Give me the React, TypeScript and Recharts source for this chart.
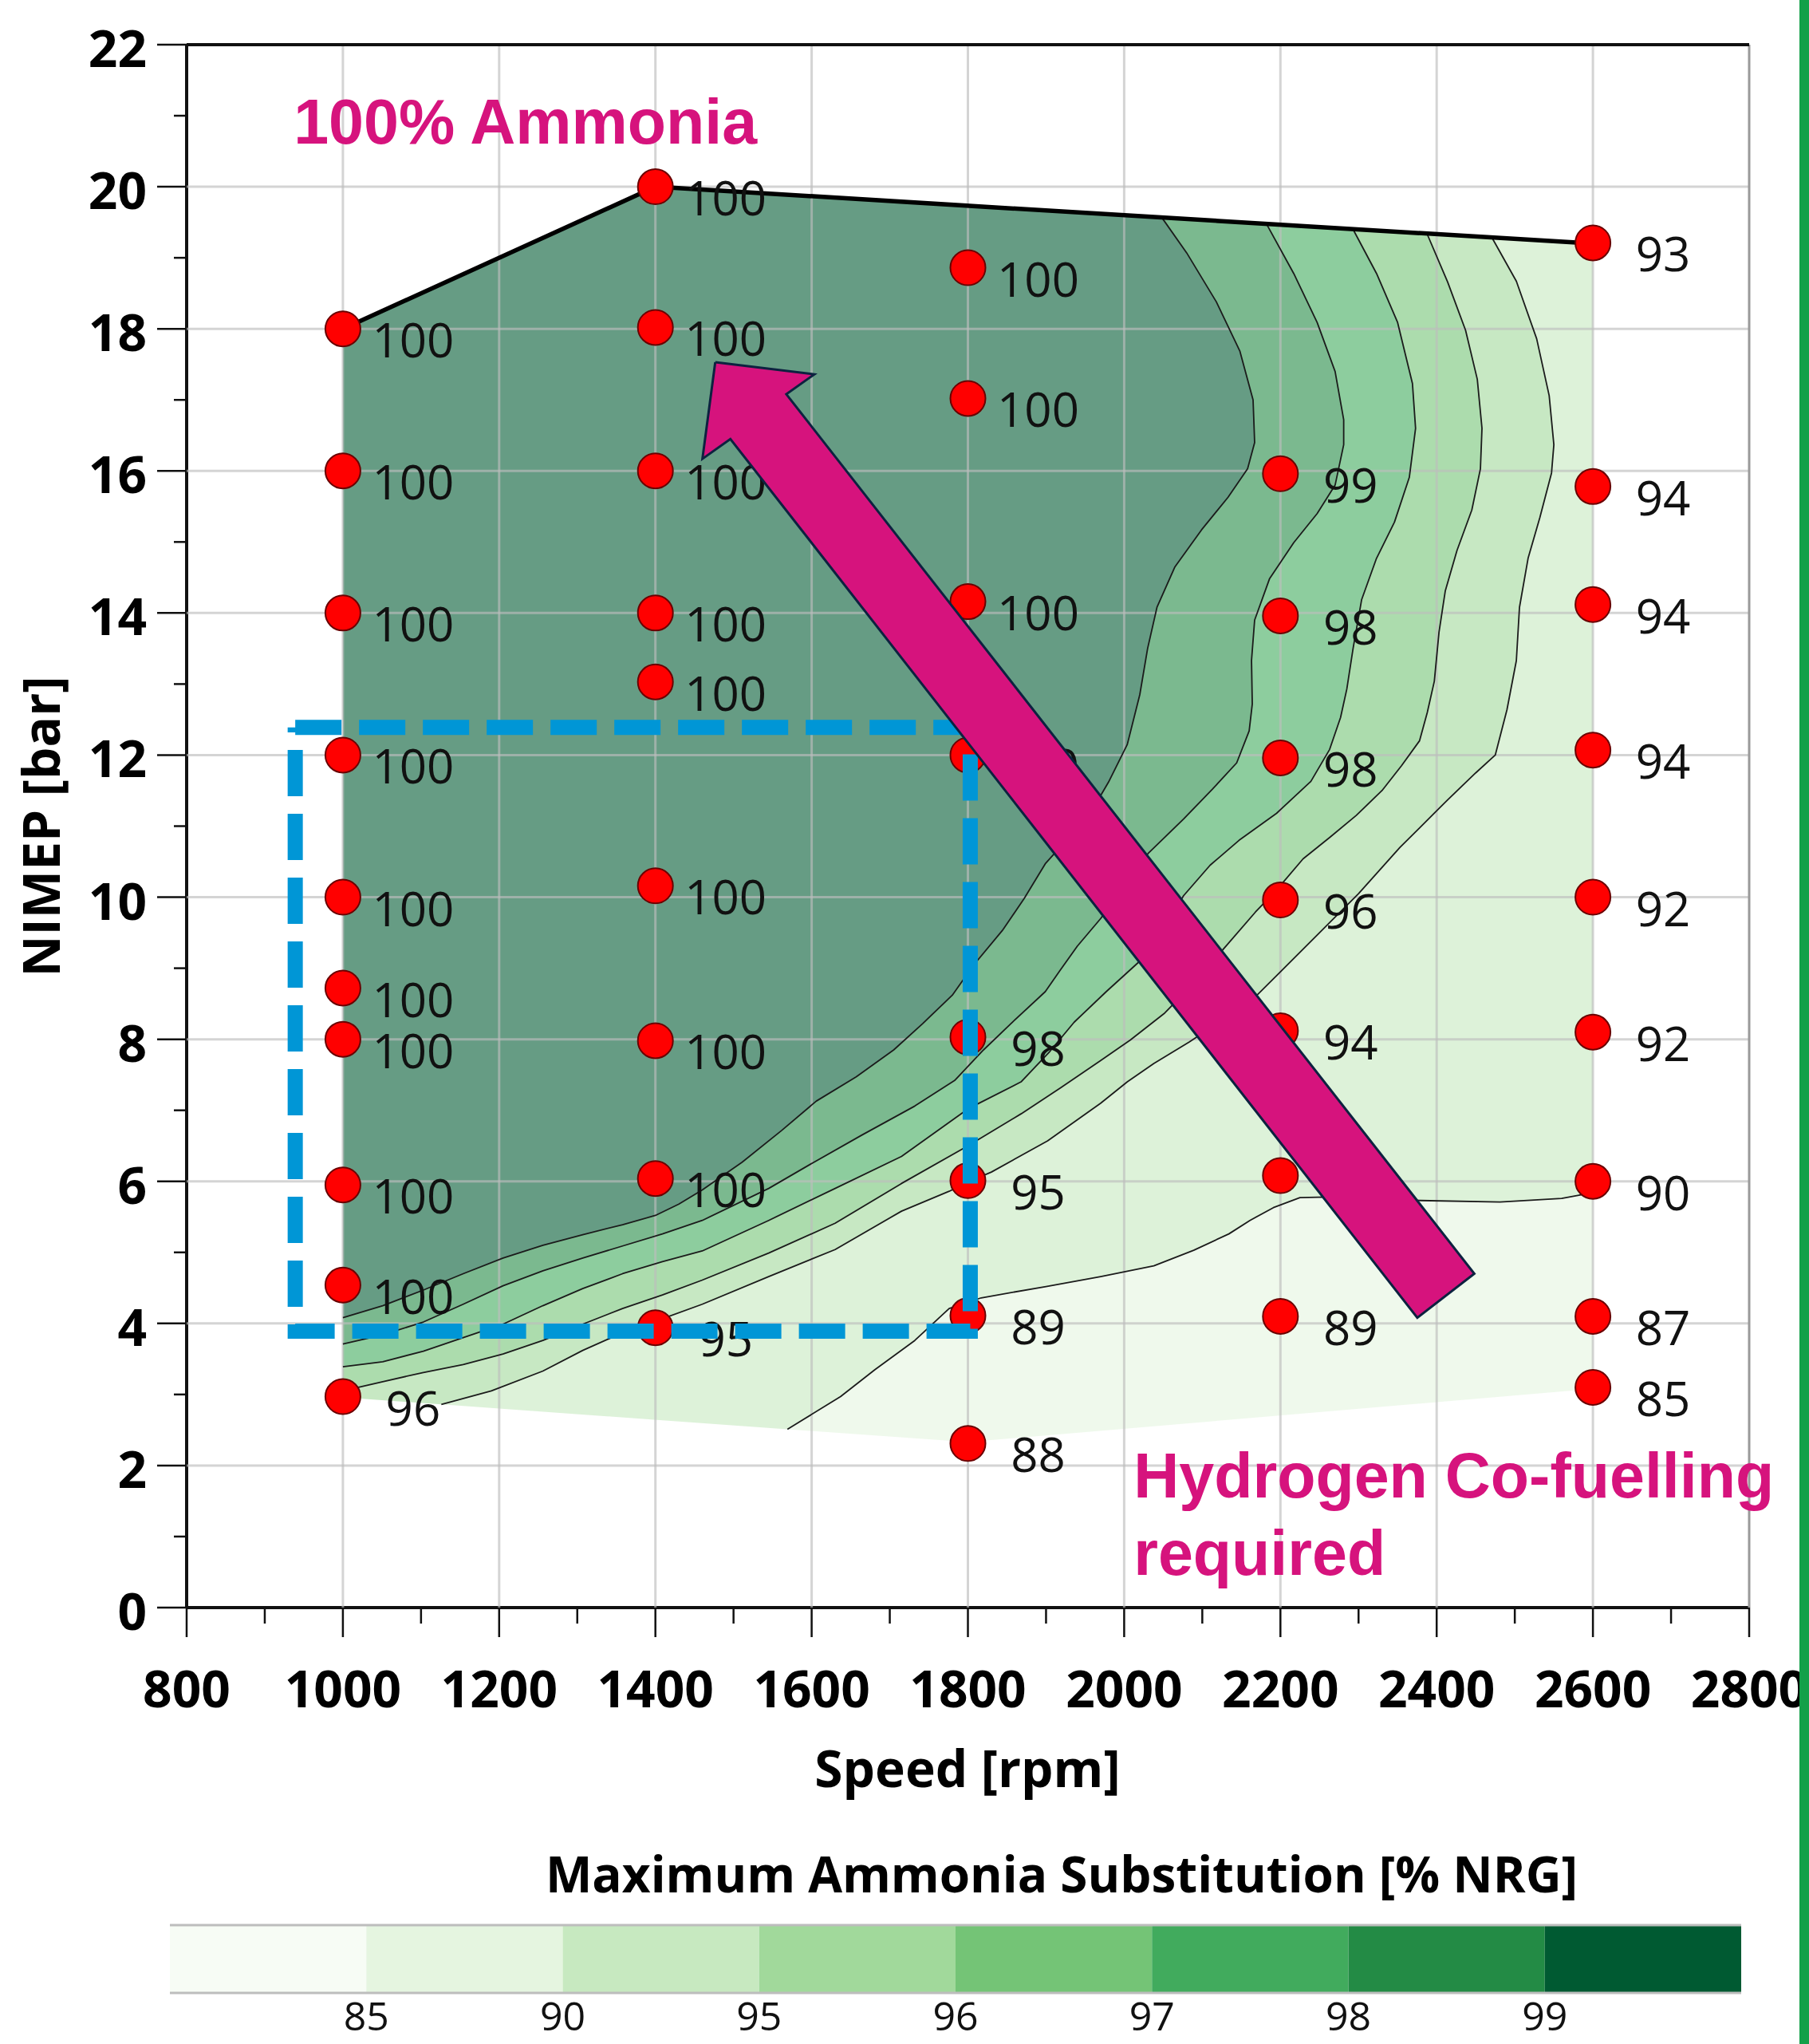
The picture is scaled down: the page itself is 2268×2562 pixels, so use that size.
import React from 'react'
import { ComposedChart, Scatter, XAxis, YAxis } from 'recharts'

type Pt = [number, number]

// operating points: speed [rpm], NIMEP [bar], max ammonia substitution [%]
const pointSpeed = [
  1000, 1000, 1000, 1000, 1000, 1000, 1000, 1000, 1000, 1000,
  1400, 1400, 1400, 1400, 1400, 1400, 1400, 1400, 1400,
  1800, 1800, 1800, 1800, 1800, 1800, 1800, 1800,
  2200, 2200, 2200, 2200, 2200, 2200, 2200,
  2600, 2600, 2600, 2600, 2600, 2600, 2600, 2600, 2600,
]
const pointNimep = [
  18, 16, 14, 12, 10, 8.72, 8, 5.95, 4.54, 2.97,
  20, 18.02, 16, 14, 13.03, 10.16, 7.98, 6.04, 3.94,
  18.86, 17.02, 14.16, 12, 8.03, 6.01, 4.11, 2.31,
  15.96, 13.96, 11.96, 9.96, 8.12, 6.08, 4.1,
  19.21, 15.78, 14.12, 12.07, 10, 8.1, 6, 4.1, 3.1,
]
const pointValue: (number | null)[] = [
  100, 100, 100, 100, 100, 100, 100, 100, 100, 96,
  100, 100, 100, 100, 100, 100, 100, 100, 95,
  100, 100, 100, 100, 98, 95, 89, 88,
  99, 98, 98, 96, 94, null, 89,
  93, 94, 94, 94, 92, 92, 90, 87, 85,
]

// test envelope
const envelopeTop: Pt[] = [[1000, 18], [1400, 20], [2600, 19.2]]
const envelopeBottom: Pt[] = [[1000, 2.96], [1800, 2.33], [2600, 3.08]]

// contour lines (bottom-left start -> top end)
const contour99: Pt[] = [
  [1000, 4.08], [1051, 4.25], [1103, 4.47], [1154, 4.7], [1205, 4.92], [1256, 5.1], [1307, 5.25],
  [1358, 5.39], [1400, 5.52], [1430, 5.68], [1460, 5.88], [1511, 6.27], [1562, 6.72], [1606, 7.13],
  [1657, 7.47], [1705, 7.85], [1742, 8.22], [1780, 8.62], [1807, 9.04], [1844, 9.53], [1872, 9.98],
  [1899, 10.47], [1930, 10.85], [1955, 11.15], [1980, 11.62], [2004, 12.15], [2020, 12.85],
  [2030, 13.5], [2042, 14.08], [2065, 14.65], [2099, 15.17], [2133, 15.63], [2158, 16.03],
  [2167, 16.4], [2165, 17.0], [2148, 17.69], [2118, 18.38], [2080, 19.07], [2048, 19.57],
]
const contour98: Pt[] = [
  [1000, 3.71], [1051, 3.84], [1103, 4.02], [1154, 4.27], [1205, 4.53], [1256, 4.74], [1307, 4.92],
  [1358, 5.09], [1409, 5.26], [1460, 5.45], [1545, 5.9], [1603, 6.27], [1664, 6.65], [1732, 7.06],
  [1783, 7.42], [1820, 7.85], [1855, 8.22], [1899, 8.67], [1918, 8.97], [1940, 9.31], [1970, 9.7],
  [2000, 10.15], [2031, 10.62], [2076, 11.1], [2113, 11.52], [2144, 11.89], [2160, 12.34],
  [2164, 12.72], [2163, 13.33], [2167, 13.9], [2186, 14.48], [2217, 14.99], [2247, 15.4],
  [2270, 15.8], [2281, 16.37], [2281, 16.72], [2270, 17.4], [2247, 18.09], [2217, 18.78], [2182, 19.48],
]
const contour97: Pt[] = [
  [1000, 3.39], [1051, 3.46], [1103, 3.61], [1154, 3.8], [1205, 3.99], [1256, 4.25], [1307, 4.49],
  [1358, 4.7], [1409, 4.87], [1460, 5.02], [1545, 5.45], [1630, 5.9], [1715, 6.35], [1800, 7.02],
  [1868, 7.4], [1905, 7.83], [1936, 8.24], [1977, 8.67], [2018, 9.08], [2050, 9.55], [2076, 10.02],
  [2110, 10.45], [2147, 10.8], [2195, 11.18], [2239, 11.63], [2263, 12.08], [2277, 12.53],
  [2285, 12.93], [2293, 13.5], [2304, 14.19], [2323, 14.77], [2346, 15.28], [2365, 15.91],
  [2373, 16.6], [2369, 17.23], [2350, 18.09], [2323, 18.78], [2293, 19.4],
]
const contour96: Pt[] = [
  [1000, 3.05], [1051, 3.18], [1103, 3.31], [1154, 3.42], [1205, 3.57], [1256, 3.76], [1307, 3.99],
  [1358, 4.21], [1409, 4.4], [1460, 4.61], [1545, 4.99], [1630, 5.41], [1715, 5.97], [1800, 6.5],
  [1868, 6.95], [1919, 7.32], [1970, 7.7], [2008, 7.99], [2052, 8.37], [2090, 8.8], [2127, 9.27],
  [2168, 9.79], [2195, 10.1], [2229, 10.54], [2263, 10.84], [2297, 11.15], [2330, 11.5],
  [2355, 11.85], [2378, 12.2], [2388, 12.6], [2397, 13.04], [2403, 13.73], [2411, 14.31],
  [2426, 14.88], [2445, 15.45], [2456, 16.03], [2458, 16.6], [2452, 17.29], [2437, 17.98],
  [2414, 18.66], [2388, 19.33],
]
const contour95: Pt[] = [
  [1126, 2.86], [1190, 3.05], [1256, 3.33], [1307, 3.62], [1358, 3.87], [1400, 4.03], [1460, 4.27],
  [1545, 4.66], [1630, 5.04], [1715, 5.58], [1776, 5.86], [1800, 5.99], [1830, 6.13], [1902, 6.57],
  [1970, 7.1], [2004, 7.4], [2038, 7.66], [2083, 7.96], [2130, 8.3], [2170, 8.62], [2200, 8.95],
  [2250, 9.5], [2300, 10.05], [2353, 10.7], [2414, 11.37], [2450, 11.75], [2475, 12.0],
  [2490, 12.64], [2502, 13.33], [2506, 14.08], [2517, 14.77], [2532, 15.34], [2547, 15.97],
  [2550, 16.37], [2544, 17.06], [2528, 17.86], [2502, 18.67], [2471, 19.28],
]
const contour90: Pt[] = [
  [1569, 2.51], [1637, 2.97], [1681, 3.35], [1732, 3.76], [1776, 4.21], [1817, 4.36], [1900, 4.52],
  [1970, 4.66], [2038, 4.81], [2089, 5.03], [2134, 5.26], [2161, 5.45], [2191, 5.63], [2225, 5.77],
  [2260, 5.78], [2379, 5.73], [2481, 5.71], [2560, 5.76], [2600, 5.84],
]

// annotations (data coordinates)
const boxCorners: Pt[] = [[939, 12.39], [1803, 12.39], [1803, 3.89], [939, 3.89], [939, 12.39]]
const arrowOutline: Pt[] = [
  [1476.6, 17.53], [1603.4, 17.36], [1567.6, 17.08], [2448.2, 4.7],
  [2375.2, 4.08], [1496.0, 16.45], [1460.2, 16.17], [1476.6, 17.53],
]
const noteText = ['100% Ammonia', 'Hydrogen Co-fuelling', 'required']
const noteSpeed = [937, 2012, 2012]
const noteNimep = [20.61, 1.55, 0.465]

// axes
const xTicks = [800, 900, 1000, 1100, 1200, 1300, 1400, 1500, 1600, 1700, 1800, 1900, 2000, 2100, 2200, 2300, 2400, 2500, 2600, 2700, 2800]
const yTicks = [0, 1, 2, 3, 4, 5, 6, 7, 8, 9, 10, 11, 12, 13, 14, 15, 16, 17, 18, 19, 20, 21, 22]
const gridX = [1000, 1200, 1400, 1600, 1800, 2000, 2200, 2400, 2600]
const gridY = [2, 4, 6, 8, 10, 12, 14, 16, 18, 20]

// colour scale
const legendColors = ['#f7fcf5', '#e5f5e0', '#c7e9c0', '#a1d99b', '#74c476', '#41ab5d', '#238b45', '#005a32']
const legendTicks = ['85', '90', '95', '96', '97', '98', '99']
const legendTickPos = [1, 2, 3, 4, 5, 6, 7]

const MAGENTA = '#d6137d'
const FONT = 'Open Sans, DejaVu Sans, sans-serif'

const toXY = (pts: Pt[]) => pts.map(([x, y]) => ({ x, y }))
const rev = (pts: Pt[]) => [...pts].reverse()

const [BL, BM, BR] = envelopeBottom
const [TL, TM, TR] = envelopeTop

const bands = [
  { color: legendColors[1], pts: [...contour90, BR, BM] },
  { color: legendColors[2], pts: [...contour90, TR, ...rev(contour95)] },
  { color: legendColors[3], pts: [...contour95, ...rev(contour96), BL] },
  { color: legendColors[4], pts: [...contour96, ...rev(contour97)] },
  { color: legendColors[5], pts: [...contour97, ...rev(contour98)] },
  { color: legendColors[6], pts: [...contour98, ...rev(contour99)] },
  { color: legendColors[7], pts: [...contour99, TM, TL] },
]
const contours = [contour99, contour98, contour97, contour96, contour95, contour90]

const points = pointSpeed.map((x, i) => ({ x, y: pointNimep[i], label: pointValue[i] }))
const notes = noteText.map((text, i) => ({ x: noteSpeed[i], y: noteNimep[i], text }))

// colour-bar cells: one unit wide each on a 0..8 axis
const legendCells = legendColors.map((color, i) => ({
  color,
  pts: [[i, 0], [i + 1, 0], [i + 1, 1], [i, 1]] as Pt[],
}))

const noShape = () => <g />

function PointShape(props: any) {
  const { cx, cy, payload } = props
  return (
    <g>
      <circle cx={cx} cy={cy} r={22} fill="#ff0000" stroke="#6a0000" strokeWidth={2} />
      {payload.label != null && (
        <text x={cx + 88} y={cy + 36} textAnchor="middle" fontSize={60} fontFamily={FONT} fill="#111">
          {payload.label}
        </text>
      )}
    </g>
  )
}

function NoteShape(props: any) {
  const { cx, cy, payload } = props
  return (
    <text x={cx} y={cy} fontSize={79} fontWeight={700} fontFamily="Liberation Sans, Arial, sans-serif" fill={MAGENTA}>
      {payload.text}
    </text>
  )
}

function XTick(props: any) {
  const { x, y, payload } = props
  const v = payload.value
  const major = v % 200 === 0
  return (
    <g>
      <line x1={x} x2={x} y1={y} y2={y + (major ? 37 : 20)} stroke="#111" strokeWidth={2.5} />
      {major && (
        <text x={x} y={y + 125} textAnchor="middle" fontSize={64} fontWeight={700} fontFamily={FONT} fill="#000">
          {v}
        </text>
      )}
    </g>
  )
}

function YTick(props: any) {
  const { x, y, payload } = props
  const v = payload.value
  const major = v % 2 === 0
  return (
    <g>
      <line x1={x - (major ? 37 : 16)} x2={x} y1={y} y2={y} stroke="#111" strokeWidth={2.5} />
      {major && (
        <text x={x - 50} y={y + 28} textAnchor="end" fontSize={64} fontWeight={700} fontFamily={FONT} fill="#000">
          {v}
        </text>
      )}
    </g>
  )
}

function LegendTick(props: any) {
  const { x, y, payload } = props
  return (
    <text x={x} y={y + 47} textAnchor="middle" fontSize={50} fontFamily={FONT} fill="#111">
      {legendTicks[payload.value - 1]}
    </text>
  )
}

export default function App() {
  return (
    <div style={{ position: 'relative', width: 2268, height: 2562, background: '#fff', overflow: 'hidden', fontFamily: FONT }}>
      <style>{'body{margin:0}'}</style>

      <div style={{ position: 'absolute', left: 0, top: 0 }}>
        <ComposedChart width={2268} height={2245} margin={{ top: 56, right: 75, left: 0, bottom: 0 }}>
          <XAxis
            type="number" dataKey="x" domain={[800, 2800]} ticks={xTicks} interval={0}
            tickSize={0} tickMargin={0} tickLine={false} height={230}
            axisLine={{ stroke: '#111', strokeWidth: 4 }} tick={XTick}
          />
          <YAxis
            type="number" dataKey="y" domain={[0, 22]} ticks={yTicks} interval={0}
            tickSize={0} tickMargin={0} tickLine={false} width={234}
            axisLine={{ stroke: '#111', strokeWidth: 4 }} tick={YTick}
          />

          {/* filled contour bands */}
          {bands.map((b, i) => (
            <Scatter key={`band${i}`} data={toXY(b.pts)} shape={noShape} isAnimationActive={false}
              line={{ fill: b.color, fillOpacity: 0.6, stroke: 'none' }} />
          ))}

          {/* grid on top of the fill */}
          {gridX.map((v) => (
            <Scatter key={`gx${v}`} data={toXY([[v, 0], [v, 22]])} shape={noShape} isAnimationActive={false}
              line={{ stroke: '#bdbdbd', strokeOpacity: 0.65, strokeWidth: 3, fill: 'none' }} />
          ))}
          {gridY.map((v) => (
            <Scatter key={`gy${v}`} data={toXY([[800, v], [2800, v]])} shape={noShape} isAnimationActive={false}
              line={{ stroke: '#bdbdbd', strokeOpacity: 0.65, strokeWidth: 3, fill: 'none' }} />
          ))}
          <Scatter data={toXY([[2800, 0], [2800, 22]])} shape={noShape} isAnimationActive={false}
            line={{ stroke: '#9a9a9a', strokeWidth: 3, fill: 'none' }} />
          <Scatter data={toXY([[800, 22], [2800, 22]])} shape={noShape} isAnimationActive={false}
            line={{ stroke: '#111', strokeWidth: 4, fill: 'none' }} />

          {/* contour lines */}
          {contours.map((c, i) => (
            <Scatter key={`c${i}`} data={toXY(c)} shape={noShape} isAnimationActive={false}
              line={{ stroke: '#1b1b1b', strokeWidth: 1.8, fill: 'none', strokeLinejoin: 'round' }} />
          ))}

          {/* envelope top edge */}
          <Scatter data={toXY(envelopeTop)} shape={noShape} isAnimationActive={false}
            line={{ stroke: '#000', strokeWidth: 5.5, fill: 'none', strokeLinejoin: 'round' }} />

          {/* measured points */}
          <Scatter data={points} shape={PointShape} isAnimationActive={false} />

          {/* dashed box */}
          <Scatter data={toXY(boxCorners)} shape={noShape} isAnimationActive={false}
            line={{ stroke: '#0096d6', strokeWidth: 19, strokeDasharray: '58 22', fill: 'none' }} />

          {/* arrow */}
          <Scatter data={toXY(arrowOutline)} shape={noShape} isAnimationActive={false}
            line={{ fill: MAGENTA, stroke: '#0d2240', strokeWidth: 3, strokeLinejoin: 'miter' }} />

          {/* text notes */}
          <Scatter data={notes} shape={NoteShape} isAnimationActive={false} />
        </ComposedChart>
      </div>

      {/* colour bar */}
      <div style={{ position: 'absolute', left: 0, top: 2400 }}>
        <ComposedChart width={2268} height={162} margin={{ top: 13, right: 85, left: 213, bottom: 0 }}>
          <XAxis type="number" dataKey="x" domain={[0, 8]} ticks={legendTickPos} interval={0}
            axisLine={false} tickLine={false} tickSize={0} tickMargin={0} height={64} tick={LegendTick} />
          <YAxis type="number" dataKey="y" domain={[0, 1]} hide />
          {legendCells.map((c) => (
            <Scatter key={c.color} data={toXY(c.pts)} shape={noShape} isAnimationActive={false}
              line={{ fill: c.color, stroke: 'none' }} />
          ))}
          <Scatter data={toXY([[0, 1], [8, 1]])} shape={noShape} isAnimationActive={false}
            line={{ stroke: '#bdbdbd', strokeWidth: 3, fill: 'none' }} />
          <Scatter data={toXY([[0, 0], [8, 0]])} shape={noShape} isAnimationActive={false}
            line={{ stroke: '#bdbdbd', strokeWidth: 3, fill: 'none' }} />
        </ComposedChart>
      </div>

      <svg width={2268} height={2562} style={{ position: 'absolute', left: 0, top: 0, pointerEvents: 'none' }}>
        <text transform="translate(75,1036) rotate(-90)" textAnchor="middle" fontSize={64} fontWeight={700} fontFamily={FONT} fill="#000">
          NIMEP [bar]
        </text>
        <text x={1213} y={2240} textAnchor="middle" fontSize={64} fontWeight={700} fontFamily={FONT} fill="#000">
          Speed [rpm]
        </text>
        <text x={1331} y={2372} textAnchor="middle" fontSize={62} fontWeight={700} fontFamily={FONT} fill="#000">
          Maximum Ammonia Substitution [% NRG]
        </text>
        <rect x={2256} y={0} width={12} height={2562} fill="#13a049" />
      </svg>
    </div>
  )
}
